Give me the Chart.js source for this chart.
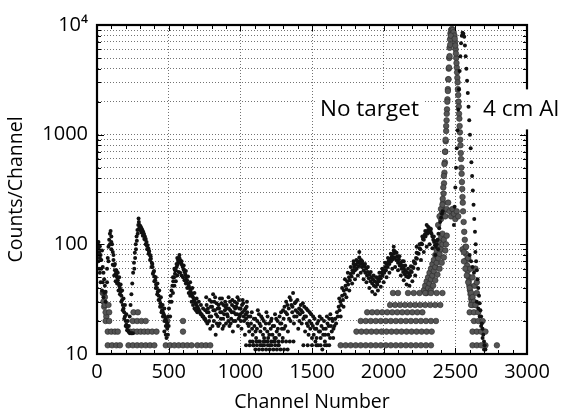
<!DOCTYPE html>
<html>
<head>
<meta charset="utf-8">
<script src="https://cdn.jsdelivr.net/npm/chart.js@4"></script>
<style>
  html, body { margin: 0; padding: 0; background: #fff; }
  #c { display: block; }
</style>
</head>
<body>
<canvas id="c" width="561" height="417"></canvas>
<script>
// ---------------- DATA ----------------
const xTickValues = [0, 500, 1000, 1500, 2000, 2500, 3000];
const yTickValues = [10,20,30,40,50,60,70,80,90,100,200,300,400,500,600,700,800,900,1000,2000,3000,4000,5000,6000,7000,8000,9000,10000];
const yTickLabels = {10: '10', 100: '100', 1000: '1000', 10000: '10\u2074'};

// "4 cm Al" spectrum (small dark dots): [channel, counts]
const alLowChannels = [
  [5,100],[10,92],[15,85],[20,96],[25,80],[30,72],[35,88],[40,62],[45,55],[50,48],[55,42],[60,37],
  [15,60],[25,45],[35,38],[45,33],[10,70],[20,55],
  [70,60],[75,75],[80,95],[85,110],[90,125],[95,132],[100,118],[105,100],[110,85],[115,72],[120,64],
  [125,58],[130,54],[135,52],[140,50],[145,47],[150,44],[155,42],[160,40],[165,37],[170,34],[175,31],
  [180,28],[185,26],[190,24],[195,22],[200,20],[205,18.5],[210,17.5],[215,16.5],[220,16],[230,15.5],[240,15.5],[250,15.5],
  [120,52],[130,46],[140,44],[150,38],[160,35],[170,30],[180,25],[190,21],[200,18],[210,16.5],[110,65],[100,90],
  [222,18],[228,22],[234,28],[240,35],[246,44],[252,55],[258,68],[264,84],[270,100],[276,118],[282,135],[288,150],
  [290,172],[292,160],[296,150],[300,148],[305,145],[310,140],[316,135],[322,130],[328,124],[334,118],[340,112],
  [346,105],[352,98],[358,92],[364,86],[370,80],[376,74],[382,68],[388,62],[394,56],[400,51],[406,47],[412,43],
  [418,40],[424,37],[430,34],[436,31],[442,29],[448,27],[454,25],[460,24],[466,23],[472,22],[478,21],[484,20],[490,19],
  [300,135],[310,128],[320,120],[330,112],[340,100],[350,90],[360,82],[370,72],[380,62],[390,54],[400,46],[410,40],
  [420,35],[430,31],[440,27],[450,24],[460,22],[470,20],[480,18],[490,17],[495,15],[485,14],[470,16],[480,15],
  [496,22],[502,26],[508,30],[514,34],[520,38],[526,42],[532,46],[538,50],[544,54],[550,58],[556,62],[562,65],
  [568,68],[574,70],[580,72],[586,68],[592,65],[598,62],[604,59],[610,56],[616,53],[622,50],[628,47],[634,44],
  [640,42],[646,40],[652,38],[658,36],[664,34],[670,33],[676,31],[682,30],[688,29],[694,28],[700,27],[706,26],
  [712,25],[718,24],[724,23],[730,23],[736,22],[742,22],[748,21],[754,21],[760,20],
  [520,30],[530,36],[540,42],[550,46],[560,52],[570,56],[580,55],[590,52],[600,50],[610,47],[620,44],[630,40],
  [640,36],[650,34],[660,30],[670,28],[680,26],[690,25],[700,24],[540,60],[560,75],[575,80],[510,22],[500,18]
];
const alLowExtra = [
  [260,60],[266,75],[272,90],[278,108],[284,125],[294,140],[302,138],[312,132],[324,122],[336,110],[348,97],
  [362,88],[374,78],[386,66],[398,57],[410,50],[422,44],[434,38],[446,33],[458,28],[470,26],
  [530,50],[545,58],[555,66],[565,72],[575,75],[590,70],[605,64],[620,57],[635,51],[650,45],[665,40],[680,36],
  [695,32],[710,30],[725,28],[740,26],[755,25],
  [100,105],[115,80],[125,66],[135,58],[145,55],[155,50],[165,43],[175,38],[185,32],[195,28],[205,23],[215,20],
  [5,80],[10,105],[20,75],[30,60],[40,45],[50,36],[60,30],[70,45],[80,70],[90,100]
];

const alNoise = [
  [765,28],[770,19],[778,24],[785,31],[790,17],[797,22],[803,27],[810,35],[815,20],[822,25],[828,15],[834,29],
  [840,22],[846,18],[852,26],[858,32],[864,21],[870,24],[876,17],[882,28],[888,23],[894,30],[900,19],[906,26],
  [912,22],[918,33],[924,18],[930,25],[936,21],[942,28],[948,16],[954,24],[960,30],[966,20],[972,27],[978,23],
  [984,18],[990,31],[996,22],[1002,26],[1008,17],[1014,24],[1020,29],[1026,20],[1032,15],[1038,23],[1044,27],[1050,19],
  [768,24],[782,20],[794,27],[806,18],[818,30],[830,23],[842,26],[856,19],[868,29],[880,21],[892,25],[904,28],
  [916,20],[928,30],[940,24],[952,20],[964,26],[976,29],[988,21],[1000,23],[1012,28],[1024,22],[1036,26],[1048,24],
  [1056,22],[1062,16],[1068,13],[1074,19],[1080,24],[1086,15],[1092,12],[1098,18],[1104,21],[1110,14],[1116,17],
  [1122,25],[1128,13],[1134,19],[1140,16],[1146,22],[1152,12],[1158,15],[1164,20],[1170,17],[1176,13],[1182,24],
  [1188,16],[1194,14],[1200,19],[1206,12],[1212,17],[1218,21],[1224,15],[1230,13],[1236,18],[1242,23],[1248,14],
  [1254,16],[1260,20],[1266,12],[1272,15],[1278,19],[1284,24],[1290,17],[1296,14],
  [1302,21],[1308,27],[1314,18],[1320,30],[1326,23],[1332,16],[1338,26],[1344,33],[1350,20],[1356,28],[1362,24],
  [1368,36],[1374,19],[1380,29],[1386,25],[1392,22],[1398,31],[1404,17],[1410,26],[1416,23],[1422,28],[1428,19],
  [1434,24],[1440,21],[1446,27],[1452,16],[1458,22],[1464,19],[1470,25],[1476,15],[1482,20],[1488,17],[1494,23],[1500,14],
  [1506,18],[1512,15],[1518,21],[1524,13],[1530,17],[1536,19],[1542,12],[1548,16],[1554,22],[1560,14],[1566,18],
  [1572,11],[1578,15],[1584,20],[1590,13],[1596,17],[1602,12],[1608,19],[1614,15],[1620,21],[1626,14],[1632,18],
  [1638,16],[1644,20],[1650,17]
];
const alNoiseExtra = [
  [762,33],[774,26],[786,22],[798,30],[812,25],[824,33],[836,19],[848,28],[860,24],[872,32],[884,18],[896,27],
  [908,23],[920,26],[932,19],[944,31],[956,27],[968,23],[980,33],[992,26],[1004,20],[1016,31],[1028,25],[1040,21],[1046,30],
  [1058,18],[1070,22],[1082,17],[1094,21],[1106,16],[1118,20],[1130,23],[1142,18],[1154,21],[1166,14],[1178,19],
  [1190,22],[1202,15],[1214,20],[1226,18],[1238,14],[1250,21],[1262,17],[1274,22],[1286,19],[1298,25],
  [1304,17],[1316,24],[1328,28],[1340,21],[1352,31],[1364,27],[1376,22],[1388,30],[1400,24],[1412,20],[1424,25],
  [1436,29],[1448,22],[1460,26],[1472,18],[1484,24],[1496,19],
  [1508,22],[1520,17],[1532,14],[1544,20],[1556,16],[1568,21],[1580,17],[1592,15],[1604,22],[1616,18],[1628,23],
  [1640,21],[1648,14]
];

// low-count rows of the "4 cm Al" spectrum: channels at 11, 12 and 13 counts
const alRow11 = [1105,1130,1155,1180,1205,1230,1255,1280,1305,1330];
const alRow12 = [1040,1065,1090,1116,1141,1166,1192,1217,1243,1268,
                 1440,1470,1500,1530,1560,1590,1620];
const alRow13 = [1085,1111,1137,1163,1189,1215,1241,1267,1293,1319,1345,1371];

const alRise = [
  [1656,18],[1662,21],[1668,19],[1674,24],[1680,22],[1686,27],[1692,25],[1698,30],[1704,28],[1710,34],[1716,31],
  [1722,38],[1728,35],[1734,42],[1740,39],[1746,46],[1752,43],[1758,50],[1764,47],[1770,54],[1776,51],[1782,58],
  [1788,55],[1794,62],[1800,58],[1806,65],[1812,60],[1818,68],[1824,63],[1830,70],[1836,66],[1842,72],[1848,62],
  [1854,66],[1860,58],[1866,63],[1872,55],[1878,60],[1884,52],[1890,56],[1896,49],[1902,53],[1908,46],[1914,50],
  [1920,44],[1926,48],[1932,42],[1938,46],[1944,41],[1950,45],[1956,43],[1962,48],[1968,46],[1974,51],[1980,49],
  [1986,55],[1992,52],[1998,58],[2004,55],[2010,62],[2016,58],[2022,66],[2028,62],[2034,70],[2040,66],[2046,74],
  [2052,70],[2058,78],[2064,73],[2070,82],[2076,76],[2082,85],[2088,72],[2094,78],[2100,68],[2106,73],[2112,64],
  [2118,68],[2124,60],[2130,64],[2136,56],[2142,60],[2148,53],[2154,57],[2160,51],[2166,55],[2172,50],[2178,54],
  [2184,52],[2190,57],[2196,56],[2202,62],[2208,61],[2214,68],[2220,67],[2226,75],[2232,74],[2238,83],[2244,82],
  [2250,92],[2256,90],[2262,102],[2268,100],[2274,112],[2280,110],[2286,122],[2292,118],[2298,130],[2304,125],
  [2310,135],[2316,128],[2322,140],[2328,130],[2334,125],[2340,118],[2346,110],[2352,105],[2358,98],[2364,95],
  [2370,100],[2376,110],[2382,125],[2388,140],[2394,160],[2400,175],[2406,190],[2412,200],
  [1700,22],[1720,27],[1740,33],[1760,38],[1780,44],[1800,48],[1820,52],[1840,55],[1860,48],[1880,45],[1900,40],
  [1920,37],[1940,35],[1960,38],[1980,41],[2000,45],[2020,50],[2040,55],[2060,60],[2080,62],[2100,58],[2120,52],
  [2140,47],[2160,43],[2180,42],[2200,46],[2220,52],[2240,60],[2260,72],[2280,85],[2300,95],[2320,100],[2340,92],
  [2360,80],[2380,90],[1830,85],[2070,95],[2300,150],[1790,70],[2140,70],[2230,95]
];
const alRiseUpper = [
  [1690,32],[1710,40],[1730,48],[1750,55],[1770,62],[1790,66],[1810,72],[1830,76],[1850,70],[1870,66],[1890,62],
  [1910,56],[1930,52],[1950,50],[1970,55],[1990,60],[2010,68],[2030,75],[2050,82],[2070,88],[2090,84],[2110,78],
  [2130,70],[2150,64],[2170,60],[2190,63],[2210,70],[2230,84],[2250,100],[2270,118],[2290,132],[2310,145],
  [2330,138],[2350,118],[2370,108]
];

const alPeak = [
  [2490,150],[2495,220],[2500,330],[2505,500],[2510,750],[2515,1100],[2520,1700],[2525,2600],[2530,3800],
  [2535,5200],[2540,6800],[2545,8000],[2550,8500],[2556,8300],
  [2562,7800],[2567,6500],[2572,5200],[2577,4000],[2582,3100],[2587,2400],[2592,1800],[2597,1350],[2602,1000],
  [2607,750],[2612,560],[2617,420],[2622,310],[2627,230],[2632,170],[2637,130],[2642,100],
  [2600,80],[2610,70],[2620,62],[2630,55],[2640,85],[2645,70],[2650,58],[2655,48],[2660,40],[2665,34],[2670,29],
  [2675,25],[2680,22],[2685,19],[2690,17],[2695,15],[2700,13],[2705,12],[2710,11],
  [2650,30],[2660,26],[2670,22],[2680,18],[2690,14],[2700,11]
];

// "No target" spectrum (larger grey dots): [channel, counts]
const noTargetPeak = [
  [2400,170],[2405,190],[2410,210],[2415,240],[2418,290],[2421,360],[2424,450],[2427,560],[2430,700],[2433,870],
  [2436,1080],[2439,1350],[2442,1700],[2445,2100],[2448,2600],[2451,3200],[2454,4000],[2457,5000],[2460,6200],
  [2463,7400],[2466,8400],[2470,9000],[2476,9200],[2482,9000],[2488,8600],
  [2494,8000],[2498,7000],[2502,6000],[2506,5000],[2510,4100],[2514,3300],[2518,2600],[2522,2000],[2526,1550],
  [2530,1200],[2534,900],[2538,680],[2542,500],[2546,370],[2550,270],[2554,200],[2558,160],[2562,130],[2566,110],[2570,95],
  [2574,82],[2578,72],[2582,64],[2586,57],[2590,51],[2594,46],[2598,42],[2602,38],[2606,35],[2610,32],[2614,30],[2618,28],
  [2560,70],[2570,60],[2580,52],[2590,45],[2600,40],[2610,36],[2620,33],[2630,30],[2640,28],[2550,90],[2560,85],
  [2575,95],[2590,75],[2605,60],[2620,50],[2635,42],[2650,36],[2640,60],[2650,45],
  [2412,260],[2416,330],[2420,420],[2424,540],[2428,700],[2432,900],[2436,1200],[2440,1550],[2444,2000],[2448,2500],
  [2452,3200],[2456,4100],[2460,5200],[2464,6600],[2468,8000],
  [2496,7500],[2500,6500],[2504,5500],[2508,4500],[2512,3700],[2516,3000],[2520,2300],[2524,1800],[2528,1400],
  [2532,1050],[2536,800],[2540,600],[2544,440],[2548,320],[2552,240]
];

const noTargetMass = [
  [2380,150],[2390,180],[2400,210],[2410,230],[2420,200],[2430,180],[2440,210],[2450,240],[2460,200],[2470,180],
  [2480,210],[2490,190],[2500,170],[2510,200],[2520,180],
  [2280,38],[2290,42],[2300,46],[2310,50],[2320,55],[2330,60],[2340,66],[2350,72],[2360,80],[2370,88],[2380,96],
  [2390,105],[2400,115],[2410,125],[2300,36],[2310,40],[2320,44],[2330,48],[2340,52],[2350,57],[2360,62],[2370,68],
  [2380,75],[2390,82],[2400,90],[2410,100],[2420,110],[2330,38],[2345,42],[2360,47],[2375,53],[2390,60],[2405,68],
  [2420,76],[2430,88],[2435,100],[2440,120],
  [40,36],[45,30],[50,27],[55,33],[65,22]
];

// quantised low-count rows of the "No target" spectrum: channels at each count level
const noTargetRow12 = [75,105,135,160,220,250,280,310,340,370,400,480,510,540,570,600,630,660,700,730,760,790,
                       1700,1735,1770,1805,1840,1875,1910,1945,1980,2015,2050,2085,2120,2155,2190,2225,2260,2295,2330,
                       2620,2650,2680,2710,2790];
const noTargetRow16 = [75,100,125,145,230,255,280,305,330,355,385,415,600,
                       1810,1845,1880,1915,1950,1985,2020,2055,2090,2125,2160,2195,2230,2265,2300,2335,
                       2620,2650,2680,2710];
const noTargetRow20 = [60,85,250,280,310,340,490,600,
                       1840,1875,1910,1945,1980,2015,2050,2085,2120,2155,2190,2225,2260,2295,2330,2365,
                       2630,2660,2690];
const noTargetRow24 = [60,85,255,285,1885,1920,1955,1990,2025,2060,2095,2130,2165,2200,2235,2270,2600,2630,2660];
const noTargetRow28 = [55,80,2045,2080,2115,2150,2185,2220,2255,2290,2325,2360,2395,2610,2640];
const noTargetRow36 = [50,2065,2100,2170,2210,2250,2290,2330,2370,2410];

// ---------------- BUILD ----------------
const pairs = arr => arr.map(([x, y]) => ({x, y}));
const row = (chs, level) => chs.map(x => ({x, y: level}));

const alData = [
  ...pairs(alLowChannels), ...pairs(alLowExtra), ...pairs(alNoise), ...pairs(alNoiseExtra),
  ...row(alRow11, 11), ...row(alRow12, 12), ...row(alRow13, 13),
  ...pairs(alRise), ...pairs(alRiseUpper), ...pairs(alPeak)
];
const noTargetData = [
  ...pairs(noTargetPeak), ...pairs(noTargetMass),
  ...row(noTargetRow12, 12), ...row(noTargetRow16, 16), ...row(noTargetRow20, 20),
  ...row(noTargetRow24, 24), ...row(noTargetRow28, 28), ...row(noTargetRow36, 36)
];

const FONT = "'Open Sans', 'DejaVu Sans', sans-serif";

const annotations = [
  {text: 'No target', x: 1556, y: 1700},
  {text: '4 cm Al', x: 2693, y: 1700}
];

const framePlugin = {
  id: 'frame',
  afterDraw(chart) {
    const {ctx, chartArea: a, scales: {x, y}} = chart;
    ctx.save();
    ctx.strokeStyle = '#000';
    ctx.lineWidth = 1;
    ctx.beginPath();
    for (let v = 0; v <= 3000; v += 100) {
      const px = Math.round(x.getPixelForValue(v)) + 0.5;
      const len = v % 500 === 0 ? 6 : 4;
      ctx.moveTo(px, a.bottom); ctx.lineTo(px, a.bottom - len);
      ctx.moveTo(px, a.top); ctx.lineTo(px, a.top + len);
    }
    yTickValues.forEach(v => {
      const py = Math.round(y.getPixelForValue(v)) + 0.5;
      const len = (v in yTickLabels) ? 7 : 4;
      ctx.moveTo(a.left, py); ctx.lineTo(a.left + len, py);
      ctx.moveTo(a.right, py); ctx.lineTo(a.right - len, py);
    });
    ctx.stroke();
    ctx.lineWidth = 2.2;
    ctx.strokeRect(a.left, a.top, a.right - a.left, a.bottom - a.top);

    ctx.font = "22.5px " + FONT;
    ctx.textBaseline = 'middle';
    ctx.textAlign = 'left';
    annotations.forEach(an => {
      const px = x.getPixelForValue(an.x);
      const py = y.getPixelForValue(an.y);
      const w = ctx.measureText(an.text).width;
      ctx.fillStyle = '#fff';
      ctx.fillRect(px - 5, py - 20, w + 10, 40);
      ctx.fillStyle = '#000';
      ctx.fillText(an.text, px, py);
    });
    ctx.restore();
  }
};

new Chart(document.getElementById('c'), {
  type: 'scatter',
  data: {
    datasets: [
      {
        label: '4 cm Al',
        data: alData,
        pointRadius: 2,
        pointBackgroundColor: '#111',
        pointBorderWidth: 0,
        showLine: false
      },
      {
        label: 'No target',
        data: noTargetData,
        pointRadius: 2.8,
        pointBackgroundColor: '#555',
        pointBorderColor: '#2a2a2a',
        pointBorderWidth: 0.6,
        showLine: false
      }
    ]
  },
  options: {
    responsive: false,
    devicePixelRatio: 1,
    animation: false,
    events: [],
    layout: {padding: {top: 25, right: 34, bottom: 0, left: 0}},
    plugins: {legend: {display: false}, tooltip: {enabled: false}},
    scales: {
      x: {
        type: 'linear',
        min: 0, max: 3000,
        afterFit: s => { s.height = 63; },
        afterBuildTicks: s => { s.ticks = xTickValues.map(v => ({value: v})); },
        ticks: {font: {family: FONT, size: 20}, color: '#000', padding: 6, maxRotation: 0, autoSkip: false,
                callback: v => String(v)},
        grid: {color: 'rgba(0,0,0,0.55)', lineWidth: 1, drawTicks: false},
        border: {display: true, color: '#000', width: 2, dash: [1, 2]},
        title: {display: true, text: 'Channel Number', font: {family: FONT, size: 19.5}, color: '#000',
                padding: {top: 0, bottom: 3}}
      },
      y: {
        type: 'logarithmic',
        min: 10, max: 10000,
        afterFit: s => { s.width = 97; },
        afterBuildTicks: s => { s.ticks = yTickValues.map(v => ({value: v})); },
        ticks: {font: {family: FONT, size: 20}, color: '#000', padding: 9, autoSkip: false,
                callback: v => yTickLabels[v] || ''},
        grid: {color: 'rgba(0,0,0,0.55)', lineWidth: 1, drawTicks: false},
        border: {display: true, color: '#000', width: 2, dash: [1, 2]},
        title: {display: true, text: 'Counts/Channel', font: {family: FONT, size: 19.5}, color: '#000',
                padding: {top: 5, bottom: 0}}
      }
    }
  },
  plugins: [framePlugin]
});
</script>
</body>
</html>
